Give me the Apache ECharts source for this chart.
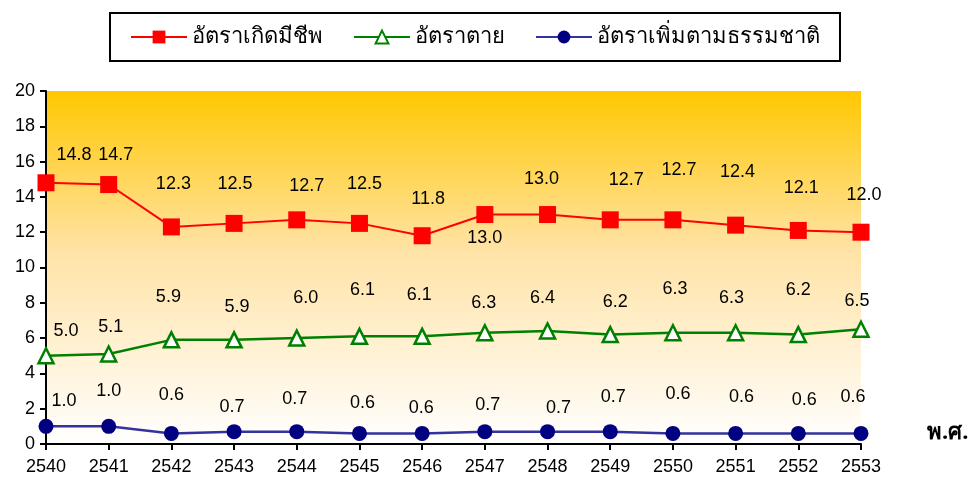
<!DOCTYPE html>
<html>
<head>
<meta charset="utf-8">
<script src="https://cdn.jsdelivr.net/npm/echarts@6/dist/echarts.min.js"></script>
<style>
  html, body { margin: 0; padding: 0; background: #fff; }
  #chart { width: 977px; height: 485px; }
</style>
</head>
<body>
<div id="chart"></div>
<script>
// ปี พ.ศ.
var years = ['2540', '2541', '2542', '2543', '2544', '2545', '2546', '2547', '2548', '2549', '2550', '2551', '2552', '2553'];
var birthRate = [14.8, 14.7, 12.3, 12.5, 12.7, 12.5, 11.8, 13.0, 13.0, 12.7, 12.7, 12.4, 12.1, 12.0];
var deathRate = [5.0, 5.1, 5.9, 5.9, 6.0, 6.1, 6.1, 6.3, 6.4, 6.2, 6.3, 6.3, 6.2, 6.5];
var growthRate = [1.0, 1.0, 0.6, 0.7, 0.7, 0.6, 0.6, 0.7, 0.7, 0.7, 0.6, 0.6, 0.6, 0.6];
var seriesNames = ['อัตราเกิดมีชีพ', 'อัตราตาย', 'อัตราเพิ่มตามธรรมชาติ'];

// label offsets (px) like in the original excel chart
var birthOff = [[28,-28],[7,-30],[2,-43],[1,-39],[10,-34],[5,-39],[6,-37],[0,23],[-6,-36],[16,-40],[6,-50],[2,-53],[3,-42],[3,-37]];
var deathOff = [[20,-25],[2,-27],[-3,-43],[3,-33],[9,-40],[3,-46],[-3,-41],[-1,-30],[-5,-33],[5,-33],[2,-44],[-4,-35],[0,-45],[-4,-28]];
var growthOff = [[18,-25],[0,-35],[0,-38],[-2,-25],[-2,-33],[3,-30],[-1,-25],[3,-27],[11,-24],[3,-35],[5,-39],[6,-36],[6,-33],[-8,-36]];

var labelFont = 'Liberation Sans, Arial, sans-serif';

function withLabels(values, offs) {
  return values.map(function (v, i) {
    return {
      value: v,
      label: { show: true, position: 'inside', offset: offs[i] }
    };
  });
}

function labelStyle() {
  return {
    show: true,
    color: '#000',
    fontSize: 18,
    fontFamily: labelFont,
    formatter: function (p) { return p.value.toFixed(1); }
  };
}

var chart = echarts.init(document.getElementById('chart'));

chart.setOption({
  animation: false,
  backgroundColor: '#fff',
  legend: {
    data: seriesNames,
    left: 110,
    top: 13,
    width: 724,
    padding: [13, 20, 13, 20],
    itemGap: 30,
    itemWidth: 56,
    itemHeight: 16,
    borderColor: '#000',
    borderWidth: 2,
    textStyle: { fontSize: 22, color: '#000', fontFamily: 'Noto Sans, DejaVu Sans, sans-serif' }
  },
  grid: { left: 46, right: 116, top: 91, bottom: 41 },
  xAxis: {
    type: 'category',
    data: years,
    boundaryGap: false,
    axisLine: { lineStyle: { color: '#000', width: 2 } },
    axisTick: { show: true, alignWithLabel: true, length: 6, lineStyle: { color: '#000', width: 2 } },
    axisLabel: { color: '#000', fontSize: 18, fontFamily: labelFont, margin: 14 },
    splitLine: { show: false }
  },
  yAxis: {
    type: 'value',
    min: 0,
    max: 20,
    interval: 2,
    axisLine: { show: true, lineStyle: { color: '#000', width: 2 } },
    axisTick: { show: true, length: 6, lineStyle: { color: '#000', width: 2 } },
    axisLabel: { color: '#000', fontSize: 18, fontFamily: labelFont, margin: 11 },
    splitLine: { show: false },
    splitArea: { show: false }
  },
  graphic: [
    {
      // พื้นหลังไล่สีของพื้นที่กราฟ
      type: 'rect',
      z: -1,
      shape: { x: 46, y: 91, width: 815, height: 353 },
      style: {
        fill: new echarts.graphic.LinearGradient(0, 0, 0, 1, [
          { offset: 0, color: '#FFC800' },
          { offset: 0.45, color: '#FFE3A6' },
          { offset: 1, color: '#FFFFFF' }
        ])
      }
    },
    {
      type: 'text',
      left: 927,
      top: 422,
      style: { text: 'พ.ศ.', fontSize: 22, fontWeight: 'bold', fill: '#000', fontFamily: 'Noto Sans, DejaVu Sans, sans-serif' }
    }
  ],
  series: [
    {
      name: seriesNames[0],
      type: 'line',
      data: withLabels(birthRate, birthOff),
      symbol: 'rect',
      symbolSize: 17,
      itemStyle: { color: '#FF0000' },
      lineStyle: { color: '#FF0000', width: 2 },
      label: labelStyle()
    },
    {
      name: seriesNames[1],
      type: 'line',
      data: withLabels(deathRate, deathOff),
      symbol: 'triangle',
      symbolSize: 15,
      itemStyle: { color: '#FFFFFF', borderColor: '#008000', borderWidth: 2.5 },
      lineStyle: { color: '#008000', width: 2.5 },
      label: labelStyle()
    },
    {
      name: seriesNames[2],
      type: 'line',
      data: withLabels(growthRate, growthOff),
      symbol: 'circle',
      symbolSize: 15,
      itemStyle: { color: '#000080' },
      lineStyle: { color: '#3333A0', width: 2.5 },
      label: labelStyle()
    }
  ]
});
</script>
</body>
</html>
